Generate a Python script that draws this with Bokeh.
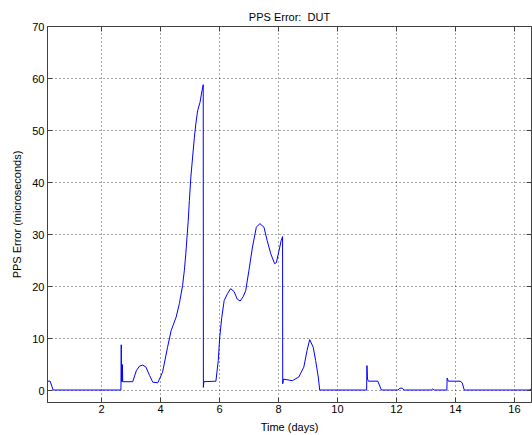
from bokeh.plotting import figure
from bokeh.models import Range1d, FixedTicker, LinearAxis
from bokeh.embed import file_html
from bokeh.resources import INLINE

# Data (time in days, PPS error in microseconds)
time_days = [0.17, 0.26, 0.36, 2.66, 2.67, 2.68, 2.70, 2.71, 2.72, 3.06,
             3.18, 3.29, 3.40, 3.51, 3.63, 3.74, 3.91, 4.07, 4.24, 4.36,
             4.53, 4.64, 4.75, 4.81, 4.86, 4.90, 4.94, 4.98, 5.03, 5.09,
             5.15, 5.20, 5.26, 5.34, 5.40, 5.45, 5.455, 5.47, 5.88, 5.96,
             6.01, 6.08, 6.16, 6.27, 6.38, 6.50, 6.60, 6.70, 6.80, 6.89,
             7.00, 7.12, 7.25, 7.37, 7.51, 7.62, 7.74, 7.87, 7.93, 8.02,
             8.09, 8.14, 8.145, 8.17, 8.47, 8.69, 8.86, 8.97, 9.06, 9.18,
             9.26, 9.35, 9.40, 10.99, 11.00, 11.02, 11.05, 11.37, 11.49, 12.05,
             12.12, 12.20, 12.26, 13.18, 13.23, 13.28, 13.71, 13.72, 13.76, 14.16,
             14.23, 14.30, 16.50, 16.58]
pps_error_us = [1.8, 1.8, 0.1, 0.1, 8.8, 1.7, 1.7, 5.0, 1.7, 1.7,
                3.8, 4.7, 4.9, 4.5, 2.9, 1.6, 1.5, 3.5, 8.3, 11.5,
                14.1, 16.7, 20.2, 23.1, 26.3, 29.5, 32.5, 36.5, 41.0, 44.9,
                48.7, 51.3, 53.8, 55.4, 57.4, 58.8, 0.6, 1.7, 1.8, 5.8,
                10.3, 14.1, 17.3, 18.6, 19.6, 19.0, 17.6, 17.2, 18.0, 19.2,
                23.1, 27.6, 31.4, 32.1, 31.4, 28.8, 26.3, 24.4, 24.6, 26.9,
                28.8, 29.6, 1.3, 2.2, 1.9, 2.6, 4.5, 7.7, 9.8, 8.3,
                5.8, 2.6, 0.1, 0.1, 4.8, 2.2, 1.8, 1.8, 0.1, 0.1,
                0.45, 0.45, 0.1, 0.1, 0.3, 0.1, 0.1, 2.4, 1.8, 1.8,
                1.5, 0.1, 0.1, 0.3]

x_ticks = [2, 4, 6, 8, 10, 12, 14, 16]
y_ticks = [0, 10, 20, 30, 40, 50, 60, 70]

FONT = "Liberation Sans"
AX = "#404040"

p = figure(width=532, height=435,
           x_range=Range1d(0.17, 16.58), y_range=Range1d(-2.3, 70),
           output_backend="svg", toolbar_location=None,
           min_border_left=47, min_border_right=1,
           min_border_top=26, min_border_bottom=33,
           background_fill_color="white", border_fill_color="white")

p.title.text = "PPS Error:\u00a0 DUT"
p.title.align = "center"
p.title.text_font = FONT
p.title.text_font_size = "11px"
p.title.text_font_style = "normal"
p.title.text_color = "black"
p.title.standoff = 8

p.line(time_days, pps_error_us, line_color="#0000ff", line_width=1)

for ax in (p.xaxis[0], p.yaxis[0]):
    ax.major_tick_in = 5
    ax.major_tick_out = 0
    ax.minor_tick_line_color = None
    ax.axis_line_color = AX
    ax.major_tick_line_color = AX
    ax.major_label_text_font = FONT
    ax.major_label_text_font_size = "11px"
    ax.major_label_text_color = "black"
    ax.axis_label_text_font = FONT
    ax.axis_label_text_font_size = "11px"
    ax.axis_label_text_font_style = "normal"
    ax.axis_label_text_color = "black"

p.xaxis.ticker = FixedTicker(ticks=x_ticks)
p.yaxis.ticker = FixedTicker(ticks=y_ticks)
p.xaxis.axis_label = "Time (days)"
p.yaxis.axis_label = "PPS Error (microseconds)"
p.xaxis.major_label_standoff = 2
p.xaxis.axis_label_standoff = 5
p.yaxis.major_label_standoff = 3
p.yaxis.axis_label_standoff = 6

# ticks on top and right (box on), without labels
top = LinearAxis(ticker=FixedTicker(ticks=x_ticks), major_tick_in=5, major_tick_out=0,
                 minor_tick_line_color=None, axis_line_color=None,
                 major_tick_line_color=AX,
                 major_label_overrides={t: "" for t in x_ticks},
                 major_label_standoff=0)
right = LinearAxis(ticker=FixedTicker(ticks=y_ticks), major_tick_in=5, major_tick_out=0,
                   minor_tick_line_color=None, axis_line_color=None,
                   major_tick_line_color=AX,
                   major_label_overrides={t: "" for t in y_ticks},
                   major_label_standoff=0)
p.add_layout(top, "above")
p.add_layout(right, "right")

p.outline_line_color = AX
p.outline_line_width = 1

p.xgrid.ticker = FixedTicker(ticks=x_ticks)
p.ygrid.ticker = FixedTicker(ticks=y_ticks)
p.grid.grid_line_color = "#000000"
p.grid.grid_line_alpha = 0.7
p.grid.grid_line_dash = "1 3"
p.grid.grid_line_width = 1

open("out.html", "w").write(file_html(p, INLINE))
